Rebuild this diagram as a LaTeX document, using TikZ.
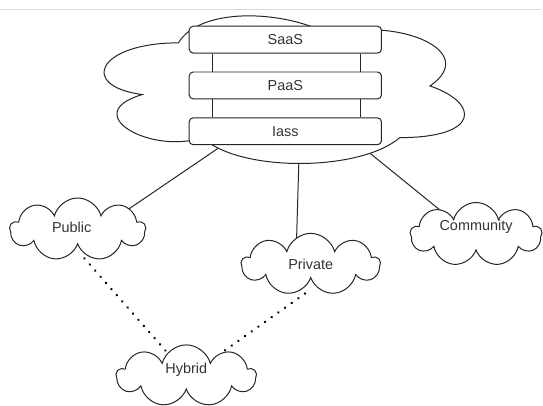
\documentclass[tikz,border=0pt]{standalone}
\usepackage{fontspec}
\setmainfont{Liberation Sans}
\usetikzlibrary{shapes.symbols}
\pgfdeclarelayer{paper}
\pgfdeclarelayer{links}
\pgfsetlayers{paper,links,main}
\tikzset{
  cloudy/.style={cloud, cloud puffs=9, cloud ignores aspect, draw=black!85, line width=1pt, fill=white, inner sep=0pt},
  layer/.style={draw=black!85, line width=1pt, rounded corners=4pt, fill=white, minimum width=193pt, minimum height=27pt, inner sep=0pt},
  link/.style={draw=black!85, line width=1pt},
  dotlink/.style={draw=black, line width=2.7pt, line cap=round, dash pattern=on 0.01pt off 8.2pt},
  every node/.style={font=\fontsize{14.5}{17}\selectfont, text=black!80}
}
\begin{document}
\begin{tikzpicture}[x=1pt,y=-1pt]
\begin{pgfonlayer}{paper}
\useasboundingbox[fill=white] (0,0) rectangle (543,400);
\draw[black!15, line width=1pt] (0,5) -- (543,5);
\end{pgfonlayer}
% main cloud (frame node + cloud outline)
\node[minimum width=404pt, minimum height=173pt, inner sep=0pt] (main) at (280.4,82.2) {};
\begin{scope}[shift={(main.north west)}, x=404pt, y=-173pt]
\filldraw[draw=black!85, fill=white, line width=1pt]
  (0.25,0.25) .. controls (0.05,0.25) and (0,0.5) .. (0.16,0.55)
  .. controls (0,0.66) and (0.18,0.9) .. (0.31,0.8)
  .. controls (0.4,1) and (0.7,1) .. (0.8,0.8)
  .. controls (1,0.8) and (1,0.6) .. (0.875,0.5)
  .. controls (1,0.3) and (0.8,0.1) .. (0.625,0.2)
  .. controls (0.5,0.05) and (0.3,0.05) .. (0.25,0.25) -- cycle;
\end{scope}
\node[layer] (saas) at (286.5,35.5) {SaaS};
\node[layer] (paas) at (286.5,81.5) {PaaS};
\node[layer] (iaas) at (286.5,127.5) {Iass};
\draw[link] ([xshift=-73.5pt]saas.south) -- ([xshift=-73.5pt]paas.north);
\draw[link] ([xshift=75.5pt]saas.south) -- ([xshift=75.5pt]paas.north);
\draw[link] ([xshift=-73.5pt]paas.south) -- ([xshift=-73.5pt]iaas.north);
\draw[link] ([xshift=75.5pt]paas.south) -- ([xshift=75.5pt]iaas.north);
% other clouds
\node[cloudy, minimum width=136pt, minimum height=63pt,
      label={[name=publictext, xshift=-6pt, yshift=2pt]center:Public}] (public) at (78,226) {};
\node[cloudy, minimum width=139pt, minimum height=62pt] (private) at (312,261) {Private};
\node[cloudy, minimum width=132pt, minimum height=64pt,
      label={[name=communitytext, yshift=8pt]center:Community}] (community) at (478,231) {};
\node[cloudy, minimum width=140pt, minimum height=62pt,
      label={[name=hybridtext, yshift=6pt]center:Hybrid}] (hybrid) at (187,373) {};
% connectors (ends hidden under the white clouds)
\begin{pgfonlayer}{links}
\draw[link] ([shift={(-50.8,55.2)}]main.center) -- ([shift={(42.4,-14.4)}]public.center);
\draw[link] ([shift={(19.9,67.8)}]main.center) -- ([shift={(-14.4,-19)}]private.center);
\draw[link] ([shift={(77.8,56.6)}]main.center) -- ([shift={(-26.6,-16.6)}]community.center);
\draw[dotlink] ([shift={(6.8,29.1)}]public.center) -- ([shift={(-19,-23.2)}]hybrid.center);
\draw[dotlink] ([shift={(-5.7,29.4)}]private.center) -- ([shift={(38.7,-25.4)}]hybrid.center);
\end{pgfonlayer}
\end{tikzpicture}
\end{document}
